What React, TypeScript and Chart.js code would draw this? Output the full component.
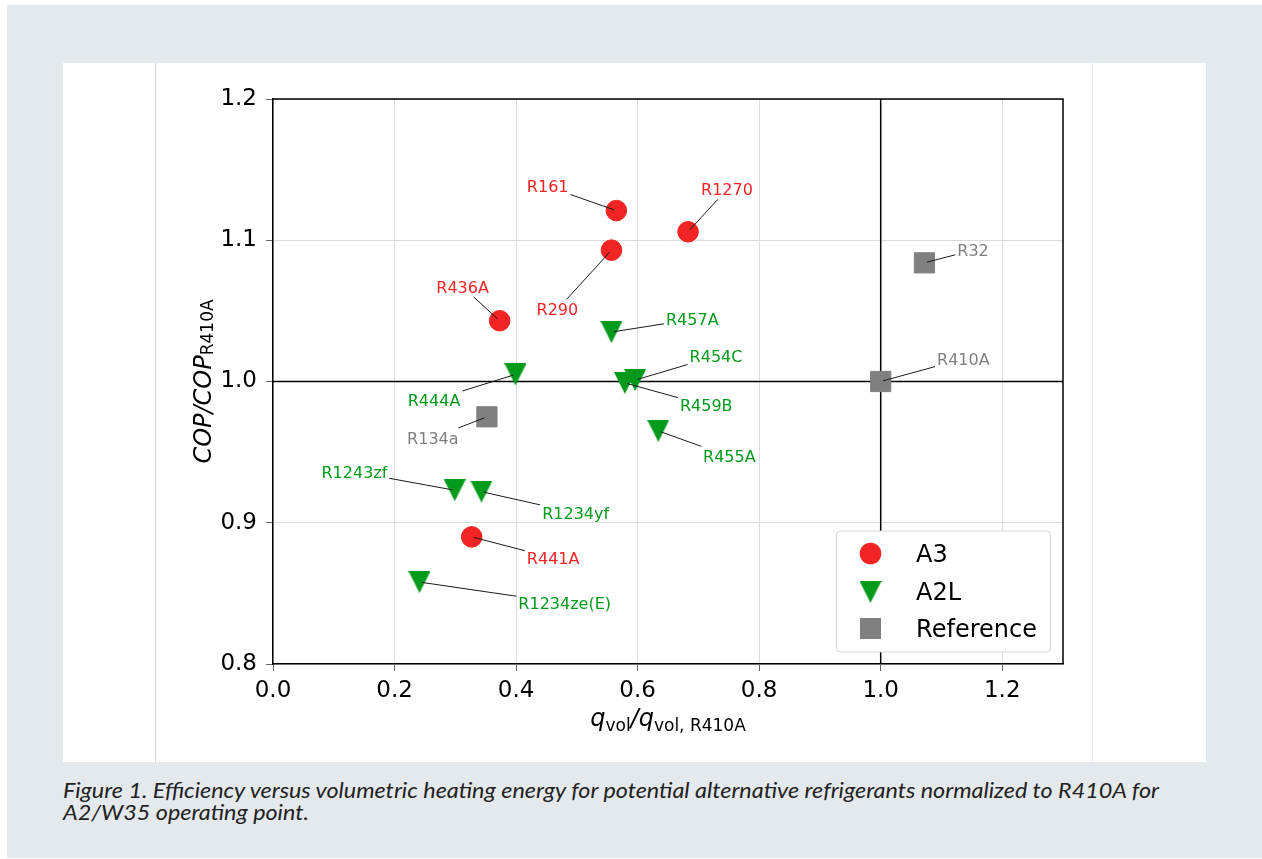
import React, { useEffect, useRef } from 'react';
import { Chart, registerables } from 'chart.js';

Chart.register(...registerables);

// ---------- data ----------
const xTicks = [0, 0.2, 0.4, 0.6, 0.8, 1.0, 1.2];
const yTicks = [0.8, 0.9, 1.0, 1.1, 1.2];
const xMin = 0;
const xMax = 1.3;
const yMin = 0.8;
const yMax = 1.2;
const refLineX = 1.0;
const refLineY = 1.0;

const a3Names = ['R161', 'R1270', 'R290', 'R436A', 'R441A'];
const a3X = [0.565, 0.683, 0.557, 0.373, 0.327];
const a3Y = [1.121, 1.106, 1.093, 1.043, 0.890];

const a2lNames = ['R457A', 'R444A', 'R454C', 'R459B', 'R455A', 'R1243zf', 'R1234yf', 'R1234ze(E)'];
const a2lX = [0.557, 0.399, 0.596, 0.579, 0.634, 0.299, 0.343, 0.241];
const a2lY = [1.035, 1.005, 1.001, 0.999, 0.965, 0.923, 0.922, 0.858];

const refNames = ['R32', 'R410A', 'R134a'];
const refX = [1.072, 1.0, 0.352];
const refY = [1.084, 1.0, 0.975];

const seriesLabels = ['A3', 'A2L', 'Reference'];

// annotation text anchor (centre of label), in data units
const labelPos: Record<string, [number, number]> = {
  R161: [0.452, 1.138],
  R1270: [0.747, 1.136],
  R290: [0.468, 1.051],
  R436A: [0.312, 1.067],
  R441A: [0.461, 0.875],
  R457A: [0.690, 1.044],
  R444A: [0.265, 0.987],
  R454C: [0.729, 1.018],
  R459B: [0.713, 0.983],
  R455A: [0.751, 0.947],
  R1243zf: [0.134, 0.936],
  R1234yf: [0.498, 0.907],
  'R1234ze(E)': [0.480, 0.843],
  R32: [1.152, 1.093],
  R410A: [1.136, 1.016],
  R134a: [0.263, 0.960],
};

const captionLines = [
  'Figure 1. Efficiency versus volumetric heating energy for potential alternative refrigerants normalized to R410A for',
  'A2/W35 operating point.',
];

// ---------- styles ----------
const FONT = '"DejaVu Sans", sans-serif';
const RED = '#f22424';
const GREEN = '#049a1b';
const GRAY = '#808080';
const PAGE_BG = '#e4e9ed';
const CAPTION_WIDTH = 1096;

function makeTriangle(size: number, color: string): HTMLCanvasElement {
  const c = document.createElement('canvas');
  c.width = size;
  c.height = size;
  const g = c.getContext('2d') as CanvasRenderingContext2D;
  g.fillStyle = color;
  g.beginPath();
  g.moveTo(0, 0);
  g.lineTo(size, 0);
  g.lineTo(size / 2, size);
  g.closePath();
  g.fill();
  return c;
}

type Seg = { t: string; italic: boolean; size: number; dy: number };

function drawSegs(ctx: CanvasRenderingContext2D, segs: Seg[], cx: number, baseY: number) {
  let total = 0;
  for (const s of segs) {
    ctx.font = `${s.italic ? 'italic ' : ''}${s.size}px ${FONT}`;
    total += ctx.measureText(s.t).width;
  }
  let x = cx - total / 2;
  ctx.textAlign = 'left';
  ctx.textBaseline = 'alphabetic';
  for (const s of segs) {
    ctx.font = `${s.italic ? 'italic ' : ''}${s.size}px ${FONT}`;
    ctx.fillText(s.t, x, baseY + s.dy);
    x += ctx.measureText(s.t).width;
  }
}

export default function App() {
  const ref = useRef<HTMLCanvasElement | null>(null);
  const capRef = useRef<HTMLDivElement | null>(null);
  const line1Ref = useRef<HTMLSpanElement | null>(null);

  useEffect(() => {
    if (capRef.current && line1Ref.current) {
      const w = line1Ref.current.getBoundingClientRect().width;
      if (w > 0) capRef.current.style.transform = `scaleX(${CAPTION_WIDTH / w})`;
    }
  }, []);

  useEffect(() => {
    if (!ref.current) return;
    const tri = makeTriangle(22, GREEN);
    const colors = [RED, GREEN, GRAY];
    const names = [a3Names, a2lNames, refNames];

    const overlay = {
      id: 'overlay',
      beforeDatasetsDraw(chart: any) {
        const { ctx, chartArea: a, scales } = chart;
        const px = scales.x.getPixelForValue(refLineX);
        const py = scales.y.getPixelForValue(refLineY);
        ctx.save();
        ctx.strokeStyle = '#000';
        ctx.lineWidth = 1.5;
        ctx.beginPath();
        ctx.moveTo(px, a.top);
        ctx.lineTo(px, a.bottom);
        ctx.moveTo(a.left, py);
        ctx.lineTo(a.right, py);
        ctx.stroke();
        ctx.beginPath();
        ctx.moveTo(a.left, a.top);
        ctx.lineTo(a.right, a.top);
        ctx.lineTo(a.right, a.bottom);
        ctx.stroke();
        ctx.restore();
      },
      afterDatasetsDraw(chart: any) {
        const { ctx, chartArea: a, scales } = chart;
        ctx.save();
        // annotations
        ctx.font = `16px ${FONT}`;
        chart.data.datasets.forEach((ds: any, di: number) => {
          const meta = chart.getDatasetMeta(di);
          meta.data.forEach((el: any, i: number) => {
            const name = names[di][i];
            const lp = labelPos[name];
            if (!lp) return;
            const tx = scales.x.getPixelForValue(lp[0]);
            const ty = scales.y.getPixelForValue(lp[1]);
            const w = ctx.measureText(name).width;
            const pad = 2;
            const hw = w / 2 + pad;
            const hh = 8 + pad;
            const dx = el.x - tx;
            const dy = el.y - ty;
            const t = Math.min(dx !== 0 ? hw / Math.abs(dx) : Infinity, dy !== 0 ? hh / Math.abs(dy) : Infinity);
            const sx = tx + dx * t;
            const sy = ty + dy * t;
            const len = Math.hypot(dx, dy);
            const ex = el.x - (dx / len) * 2.5;
            const ey = el.y - (dy / len) * 2.5;
            ctx.strokeStyle = '#1a1a1a';
            ctx.lineWidth = 1;
            ctx.beginPath();
            ctx.moveTo(sx, sy);
            ctx.lineTo(ex, ey);
            ctx.stroke();
            ctx.fillStyle = colors[di];
            ctx.textAlign = 'center';
            ctx.textBaseline = 'alphabetic';
            ctx.fillText(name, tx, ty + 5.8);
          });
        });

        // legend
        const bw = 214, bh = 121;
        const bl = a.right - 12.5 - bw;
        const bt = a.bottom - 12 - bh;
        ctx.beginPath();
        const r = 4;
        ctx.moveTo(bl + r, bt);
        ctx.lineTo(bl + bw - r, bt);
        ctx.quadraticCurveTo(bl + bw, bt, bl + bw, bt + r);
        ctx.lineTo(bl + bw, bt + bh - r);
        ctx.quadraticCurveTo(bl + bw, bt + bh, bl + bw - r, bt + bh);
        ctx.lineTo(bl + r, bt + bh);
        ctx.quadraticCurveTo(bl, bt + bh, bl, bt + bh - r);
        ctx.lineTo(bl, bt + r);
        ctx.quadraticCurveTo(bl, bt, bl + r, bt);
        ctx.closePath();
        ctx.fillStyle = '#ffffff';
        ctx.fill();
        ctx.strokeStyle = '#d6d6d6';
        ctx.lineWidth = 1;
        ctx.stroke();
        chart.data.datasets.forEach((ds: any, di: number) => {
          const cy = bt + 22.5 + di * 37.5;
          const mx = bl + 34;
          ctx.fillStyle = colors[di];
          if (di === 0) {
            ctx.beginPath();
            ctx.arc(mx, cy, 10.8, 0, Math.PI * 2);
            ctx.fill();
          } else if (di === 1) {
            ctx.drawImage(tri, mx - 11, cy - 10, 22, 22);
          } else {
            ctx.fillRect(mx - 10.5, cy - 10.5, 21, 21);
          }
          ctx.fillStyle = '#000';
          ctx.font = `24px ${FONT}`;
          ctx.textAlign = 'left';
          ctx.textBaseline = 'alphabetic';
          ctx.fillText(ds.label, bl + 79.6, cy + 8.8);
        });

        // axis titles
        ctx.fillStyle = '#000';
        const xc = (a.left + a.right) / 2;
        drawSegs(ctx, [
          { t: 'q', italic: true, size: 24, dy: 0 },
          { t: 'vol', italic: false, size: 17, dy: 5 },
          { t: '/', italic: true, size: 24, dy: 0 },
          { t: 'q', italic: true, size: 24, dy: 0 },
          { t: 'vol, R410A', italic: false, size: 17, dy: 5 },
        ], xc, a.bottom + 62);

        const yc = (a.top + a.bottom) / 2;
        ctx.translate(a.left - 62.3, yc);
        ctx.rotate(-Math.PI / 2);
        drawSegs(ctx, [
          { t: 'COP/COP', italic: true, size: 24, dy: 0 },
          { t: 'R410A', italic: false, size: 17, dy: 2 },
        ], 0, 0);
        ctx.restore();
      },
    };

    const chart = new Chart(ref.current, {
      type: 'scatter',
      data: {
        datasets: [
          {
            label: seriesLabels[0],
            data: a3X.map((x, i) => ({ x, y: a3Y[i] })),
            pointStyle: 'circle',
            pointRadius: 10.3,
            pointBackgroundColor: RED,
            pointBorderColor: RED,
            pointBorderWidth: 1,
            showLine: false,
          },
          {
            label: seriesLabels[1],
            data: a2lX.map((x, i) => ({ x, y: a2lY[i] })),
            pointStyle: tri as any,
            pointRadius: 11,
            pointBackgroundColor: GREEN,
            pointBorderColor: GREEN,
            showLine: false,
          },
          {
            label: seriesLabels[2],
            data: refX.map((x, i) => ({ x, y: refY[i] })),
            pointStyle: 'rect',
            pointRadius: 14.3,
            pointBackgroundColor: GRAY,
            pointBorderColor: GRAY,
            pointBorderWidth: 1,
            showLine: false,
          },
        ],
      },
      options: {
        responsive: false,
        animation: false,
        events: [],
        layout: { padding: { left: 0, top: 36, right: 143, bottom: 0 } },
        plugins: {
          legend: { display: false },
          tooltip: { enabled: false },
        },
        scales: {
          x: {
            type: 'linear',
            min: xMin,
            max: xMax,
            afterBuildTicks: (s: any) => {
              s.ticks = xTicks.map((v) => ({ value: v }));
            },
            afterFit: (s: any) => {
              s.height = 98;
            },
            ticks: {
              callback: (v: any) => Number(v).toFixed(1),
              font: { family: FONT, size: 23 },
              color: '#000',
              padding: 6,
              maxRotation: 0,
              autoSkip: false,
            },
            grid: { color: '#dcdcdc', lineWidth: 1, tickLength: 7, tickColor: '#666' },
            border: { color: '#000', width: 1.5 },
          },
          y: {
            type: 'linear',
            min: yMin,
            max: yMax,
            afterBuildTicks: (s: any) => {
              s.ticks = yTicks.map((v) => ({ value: v }));
            },
            afterFit: (s: any) => {
              s.width = 210;
            },
            ticks: {
              callback: (v: any) => Number(v).toFixed(1),
              font: { family: FONT, size: 23 },
              color: '#000',
              padding: 9,
              autoSkip: false,
            },
            grid: { color: '#dcdcdc', lineWidth: 1, tickLength: 7, tickColor: '#666' },
            border: { color: '#000', width: 1.5 },
          },
        },
      },
      plugins: [overlay],
    } as any);
    return () => chart.destroy();
  }, []);

  return (
    <div style={{ position: 'absolute', left: 0, top: 0, width: 1262, height: 859, background: '#fff', overflow: 'hidden' }}>
      <div style={{ position: 'absolute', left: 7, top: 5, width: 1255, height: 853, background: PAGE_BG }} />
      <div style={{ position: 'absolute', left: 63, top: 63, width: 1143, height: 699, background: '#fff' }} />
      <div style={{ position: 'absolute', left: 155, top: 63, width: 1, height: 699, background: '#d4d4d4' }} />
      <div style={{ position: 'absolute', left: 1092, top: 63, width: 1, height: 699, background: '#f0f0f0' }} />
      <canvas ref={ref} width={1143} height={699} style={{ position: 'absolute', left: 63, top: 63, width: 1143, height: 699, display: 'block' }} />
      <div
        ref={capRef}
        style={{
          position: 'absolute',
          left: 63,
          top: 779,
          fontFamily: 'Lato, "Open Sans", sans-serif',
          fontStyle: 'italic',
          fontSize: 21,
          lineHeight: '22px',
          color: '#222',
          whiteSpace: 'nowrap',
          transformOrigin: '0 0',
        }}
      >
        <div><span ref={line1Ref}>{captionLines[0]}</span></div>
        <div>{captionLines[1]}</div>
      </div>
    </div>
  );
}
